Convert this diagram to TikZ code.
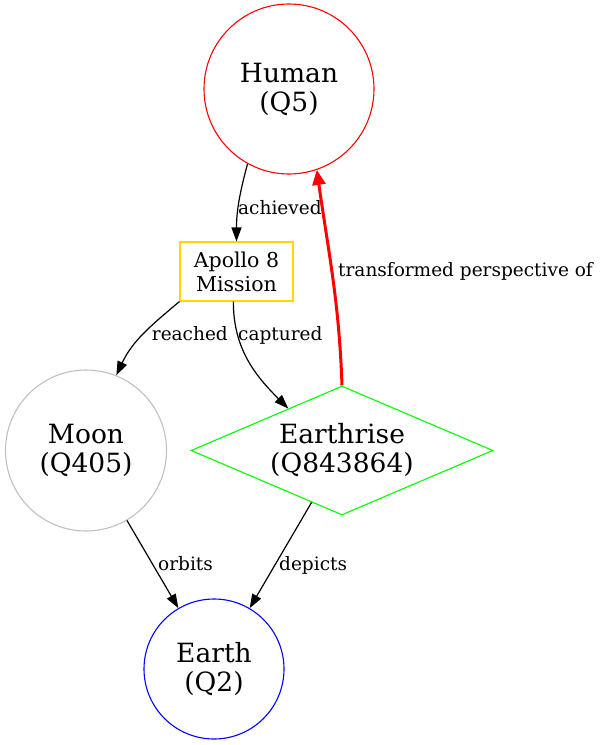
\documentclass[tikz,border=0pt]{standalone}
\usepackage{fontspec}
\setmainfont{DejaVu Serif}
\usetikzlibrary{arrows.meta,shapes.geometric}
\definecolor{apgold}{RGB}{255,215,0}
\definecolor{moongray}{RGB}{192,192,192}
\definecolor{erGreen}{RGB}{0,255,0}
\tikzset{
  bignode/.style={font=\fontsize{26.5}{29}\selectfont, align=center, inner sep=0pt},
  circ/.style={bignode, circle, line width=1.1pt},
  edge/.style={line width=1.2pt, -{Triangle[length=14pt,width=10pt]}},
  redge/.style={line width=3pt, red, -{Triangle[length=15pt,width=13pt]}},
  elabel/.style={font=\fontsize{18.5}{22}\selectfont, inner sep=0pt, anchor=base west}
}
\begin{document}
\begin{tikzpicture}[x=1pt,y=-1pt]
\useasboundingbox (0,0) rectangle (604,745);
\node[circ, draw=red, minimum size=170pt] (human) at (289,89) {Human\\(Q5)};
\node[draw=apgold, line width=1.1pt, rectangle, minimum width=113pt, minimum height=59pt, inner sep=0pt,
      align=center, font=\fontsize{20.5}{24}\selectfont] (apollo) at (236.5,271.5) {Apollo 8\\Mission};
\node[circ, draw=moongray, minimum size=161pt] (moon) at (86,450.5) {Moon\\(Q405)};
\node[bignode, diamond, draw=erGreen, line width=1.1pt, aspect=2.34, minimum width=302pt, minimum height=129pt] (earthrise) at (342,450.5) {Earthrise\\(Q843864)};
\node[circ, draw=blue, minimum size=140pt] (earth) at (214,669) {Earth\\(Q2)};

\draw[edge] (human.241) to[out=-105,in=90] (apollo.north);
\draw[edge] (apollo.south west) to[out=-140,in=65] (moon.68);
\draw[edge] (apollo.-96) to[out=-90,in=135] (earthrise.142);
\draw[redge] (earthrise.north) to[out=92,in=-82] (human.-71);
\draw[edge] (moon) -- (earth);
\draw[edge] (earthrise) -- (earth);

\node[elabel] (lach) at (238,214) {achieved};
\node[elabel, anchor=base east] (lrea) at (228,340) {reached};
\node[elabel] (lcap) at (238,340) {captured};
\node[elabel] (ltra) at (338,276.7) {transformed perspective of};
\node[elabel] (lorb) at (158,570.7) {orbits};
\node[elabel] (ldep) at (279,570.7) {depicts};
\end{tikzpicture}
\end{document}
